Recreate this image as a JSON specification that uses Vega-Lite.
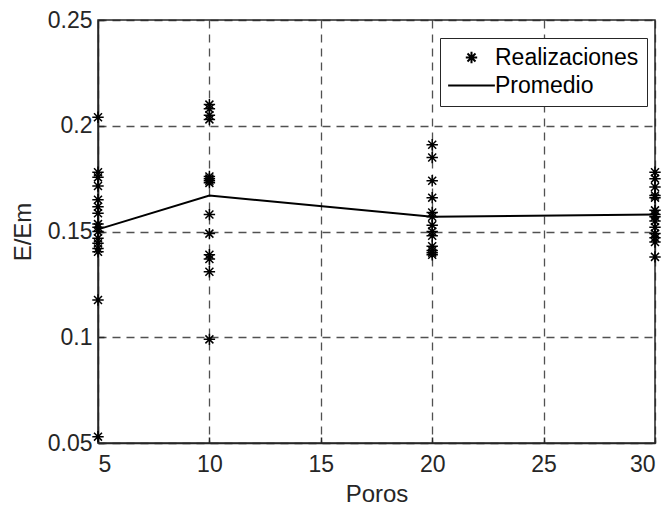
{
  "$schema": "https://vega.github.io/schema/vega-lite/v6.json",
  "width": 557,
  "height": 423,
  "padding": {"left": 98, "top": 20, "right": 12, "bottom": 71},
  "autosize": {"type": "none"},
  "background": "white",
  "config": {
    "font": "Liberation Sans",
    "view": {"stroke": "#262626", "strokeWidth": 1.5},
    "axis": {
      "domainColor": "#262626",
      "domainWidth": 1.5,
      "tickColor": "#262626",
      "tickSize": -6,
      "tickWidth": 1.5,
      "labelColor": "#262626",
      "labelFontSize": 23,
      "titleColor": "#262626",
      "titleFontSize": 24,
      "titleFontWeight": "normal",
      "grid": true,
      "gridColor": "#262626",
      "gridOpacity": 0.8,
      "gridDash": [8, 6],
      "gridWidth": 1.3
    }
  },
  "datasets": {
    "real": [
      {"poros": 5, "e": 0.204}, {"poros": 5, "e": 0.178}, {"poros": 5, "e": 0.1756}, {"poros": 5, "e": 0.1715},
      {"poros": 5, "e": 0.165}, {"poros": 5, "e": 0.1617}, {"poros": 5, "e": 0.1586}, {"poros": 5, "e": 0.1535},
      {"poros": 5, "e": 0.152}, {"poros": 5, "e": 0.15}, {"poros": 5, "e": 0.1468}, {"poros": 5, "e": 0.1444},
      {"poros": 5, "e": 0.142}, {"poros": 5, "e": 0.1404}, {"poros": 5, "e": 0.1176}, {"poros": 5, "e": 0.053},
      {"poros": 10, "e": 0.210}, {"poros": 10, "e": 0.208}, {"poros": 10, "e": 0.205}, {"poros": 10, "e": 0.203},
      {"poros": 10, "e": 0.176}, {"poros": 10, "e": 0.175}, {"poros": 10, "e": 0.174}, {"poros": 10, "e": 0.173},
      {"poros": 10, "e": 0.158}, {"poros": 10, "e": 0.149}, {"poros": 10, "e": 0.139}, {"poros": 10, "e": 0.137},
      {"poros": 10, "e": 0.131}, {"poros": 10, "e": 0.099},
      {"poros": 20, "e": 0.191}, {"poros": 20, "e": 0.185}, {"poros": 20, "e": 0.174}, {"poros": 20, "e": 0.166},
      {"poros": 20, "e": 0.159}, {"poros": 20, "e": 0.157}, {"poros": 20, "e": 0.153}, {"poros": 20, "e": 0.150},
      {"poros": 20, "e": 0.148}, {"poros": 20, "e": 0.143}, {"poros": 20, "e": 0.141}, {"poros": 20, "e": 0.140},
      {"poros": 20, "e": 0.139},
      {"poros": 30, "e": 0.178}, {"poros": 30, "e": 0.175}, {"poros": 30, "e": 0.171}, {"poros": 30, "e": 0.167},
      {"poros": 30, "e": 0.166}, {"poros": 30, "e": 0.160}, {"poros": 30, "e": 0.158}, {"poros": 30, "e": 0.157},
      {"poros": 30, "e": 0.155}, {"poros": 30, "e": 0.152}, {"poros": 30, "e": 0.149}, {"poros": 30, "e": 0.147},
      {"poros": 30, "e": 0.145}, {"poros": 30, "e": 0.138}
    ],
    "prom": [
      {"poros": 5, "e": 0.151},
      {"poros": 10, "e": 0.167},
      {"poros": 20, "e": 0.157},
      {"poros": 30, "e": 0.158}
    ]
  },
  "layer": [
    {
      "data": {"name": "prom"},
      "mark": {"type": "line", "color": "black", "strokeWidth": 2},
      "encoding": {
        "x": {"field": "poros", "type": "quantitative", "scale": {"domain": [5, 30], "nice": false, "zero": false},
              "axis": {"values": [5, 10, 15, 20, 25, 30], "title": "Poros", "labelPadding": 16, "titlePadding": 6}},
        "y": {"field": "e", "type": "quantitative", "scale": {"domain": [0.05, 0.25], "nice": false, "zero": false},
              "axis": {"values": [0.05, 0.1, 0.15, 0.2, 0.25], "format": ".2~f", "title": "E/Em", "labelPadding": 12, "titlePadding": 12}}
      }
    },
    {
      "data": {"name": "real"},
      "transform": [{"calculate": "'Realizaciones'", "as": "serie"}],
      "mark": {"type": "point", "filled": false, "stroke": "black", "strokeWidth": 1.5, "size": 130, "opacity": 1},
      "encoding": {
        "x": {"field": "poros", "type": "quantitative"},
        "y": {"field": "e", "type": "quantitative"},
        "shape": {
          "field": "serie", "type": "nominal",
          "scale": {"domain": ["Realizaciones", "Promedio"],
                    "range": ["M0,-1L0,1M-1,0L1,0M-0.7,-0.7L0.7,0.7M-0.7,0.7L0.7,-0.7", "M-4.1,0L4.1,0"]},
          "legend": {
            "title": null,
            "orient": "none",
            "legendX": 342,
            "legendY": 18,
            "direction": "vertical",
            "strokeColor": "#262626",
            "fillColor": "white",
            "padding": 8,
            "labelFontSize": 23,
            "labelColor": "black",
            "symbolStrokeColor": "black",
            "symbolStrokeWidth": 2,
            "symbolSize": 130,
            "symbolOffset": 12,
            "rowPadding": 4,
            "labelOffset": 12
          }
        }
      }
    }
  ]
}
